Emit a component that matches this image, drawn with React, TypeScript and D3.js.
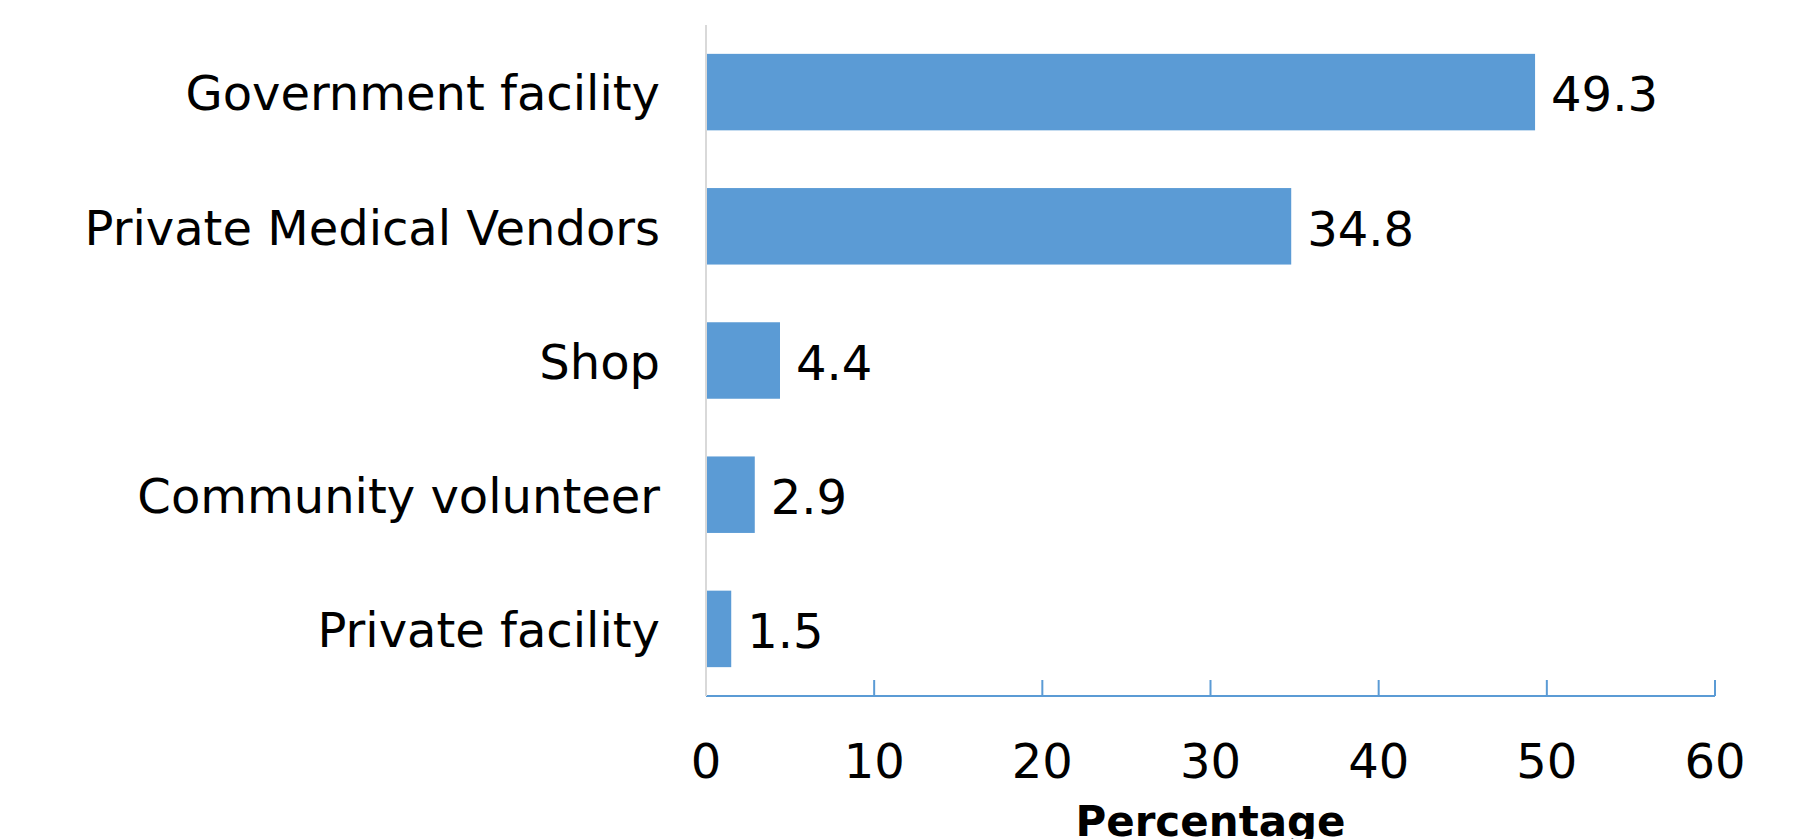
import React from "react";
import * as d3 from "d3";

const categories = [
  "Government facility",
  "Private Medical Vendors",
  "Shop",
  "Community volunteer",
  "Private facility",
];
const values = [49.3, 34.8, 4.4, 2.9, 1.5];
const xTicks = [0, 10, 20, 30, 40, 50, 60];
const xTitle = "Percentage";

const W = 1797;
const H = 839;
const FONT = "'DejaVu Sans', Verdana, sans-serif";

export default function App() {
  const x = d3.scaleLinear().domain([0, 60]).range([706, 1715]);
  const y = d3
    .scaleBand<string>()
    .domain(categories)
    .range([25, 696])
    .paddingInner(0.43)
    .paddingOuter(0.215);
  const axisY = 696;

  return (
    <svg
      width={W}
      height={H}
      style={{ position: "absolute", left: 0, top: 0, display: "block", background: "#fff" }}
      fontFamily={FONT}
    >
      {categories.map((c, i) => {
        const y0 = y(c)!;
        const bw = y.bandwidth();
        return (
          <g key={c}>
            <rect x={x(0)} y={y0} width={x(values[i]) - x(0)} height={bw} fill="#5B9BD5" />
            <text
              x={x(values[i]) + 16}
              y={y0 + bw / 2 + 2}
              dy="0.36em"
              fontSize={48}
              fill="#000"
            >
              {values[i].toFixed(1)}
            </text>
            <text
              x={660}
              y={y0 + bw / 2 + 1}
              dy="0.36em"
              fontSize={48}
              textAnchor="end"
              fill="#000"
            >
              {c}
            </text>
          </g>
        );
      })}
      {/* x axis */}
      <line x1={x(0)} x2={x(60)} y1={axisY} y2={axisY} stroke="#5B9BD5" strokeWidth={2} />
      {xTicks.map((t) => (
        <g key={t}>
          {t !== 0 && (
            <line x1={x(t)} x2={x(t)} y1={axisY - 16} y2={axisY} stroke="#5B9BD5" strokeWidth={2} />
          )}
          <text x={x(t)} y={778} fontSize={48} textAnchor="middle" fill="#000">
            {t}
          </text>
        </g>
      ))}
      {/* y axis */}
      <line x1={x(0)} x2={x(0)} y1={25} y2={axisY} stroke="#d9d9d9" strokeWidth={2} />
      <text
        x={(x(0) + x(60)) / 2}
        y={836}
        fontSize={42}
        fontWeight="bold"
        textAnchor="middle"
        fill="#000"
      >
        {xTitle}
      </text>
    </svg>
  );
}
